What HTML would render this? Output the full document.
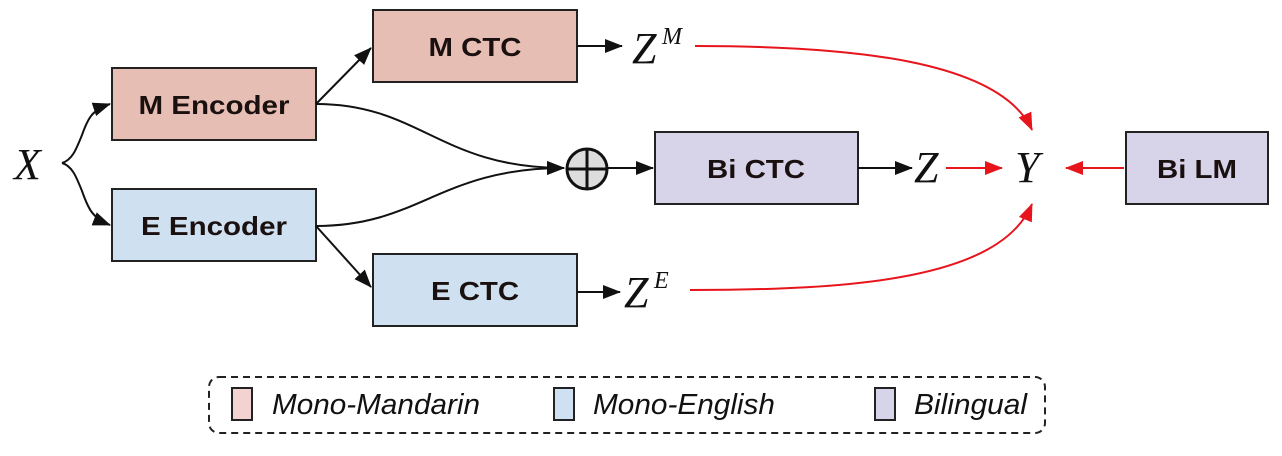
<!DOCTYPE html>
<html><head><style>
body{margin:0;background:#fff;width:1282px;height:451px;overflow:hidden}
</style></head><body>
<svg width="1282" height="451" xmlns="http://www.w3.org/2000/svg" font-family="Liberation Sans, sans-serif">
<defs>
<marker id="a" markerWidth="18" markerHeight="14" refX="17" refY="7" orient="auto" markerUnits="userSpaceOnUse" viewBox="0 0 18 14"><path d="M0,0 L18,7 L0,14z" fill="#111"/></marker>
<marker id="r" markerWidth="18" markerHeight="14" refX="17" refY="7" orient="auto" markerUnits="userSpaceOnUse" viewBox="0 0 18 14"><path d="M0,0 L18,7 L0,14z" fill="#e8141c"/></marker>
</defs>
<g stroke="#222" stroke-width="2">
<rect x="112" y="68" width="204" height="72" fill="#e6beb3"/>
<rect x="112" y="189" width="204" height="72" fill="#cfe1f0"/>
<rect x="373" y="10" width="204" height="72" fill="#e6beb3"/>
<rect x="373" y="254" width="204" height="72" fill="#cfe1f0"/>
<rect x="655" y="132" width="203" height="72" fill="#d7d3e8"/>
<rect x="1126" y="132" width="142" height="72" fill="#d7d3e8"/>
</g>
<g font-weight="bold" font-size="26" fill="#1a1010" text-anchor="middle">
<text x="214" y="114" textLength="151" lengthAdjust="spacingAndGlyphs">M Encoder</text>
<text x="214" y="235" textLength="146" lengthAdjust="spacingAndGlyphs">E Encoder</text>
<text x="475" y="56" textLength="93" lengthAdjust="spacingAndGlyphs">M CTC</text>
<text x="475" y="300" textLength="88" lengthAdjust="spacingAndGlyphs">E CTC</text>
<text x="756" y="178" textLength="98" lengthAdjust="spacingAndGlyphs">Bi CTC</text>
<text x="1197" y="178" textLength="80" lengthAdjust="spacingAndGlyphs">Bi LM</text>
</g>
<g font-family="Liberation Serif, serif" font-style="italic" font-size="44" fill="#111">
<text x="14" y="179">X</text>
<text x="632" y="63">Z</text><text x="662" y="44" font-size="24">M</text>
<text x="624" y="307">Z</text><text x="654" y="288" font-size="24">E</text>
<text x="914" y="182">Z</text>
<text x="1015" y="182">Y</text>
</g>
<g fill="none" stroke="#111" stroke-width="2">
<path d="M62,163 C72,160 76,150 82,135 C88,118 92,110 110,104" marker-end="url(#a)"/>
<path d="M62,163 C72,166 76,176 82,191 C88,208 92,218 110,225" marker-end="url(#a)"/>
<path d="M316,104 L371,48" marker-end="url(#a)"/>
<path d="M316,226 L371,287" marker-end="url(#a)"/>
<path d="M316,104 C420,104 440,168 564,168" marker-end="url(#a)"/>
<path d="M316,226 C420,226 440,168 564,168" marker-end="url(#a)"/>
<path d="M607,168 L653,168" marker-end="url(#a)"/>
<path d="M577,46 L622,46" marker-end="url(#a)"/>
<path d="M577,292 L620,292" marker-end="url(#a)"/>
<path d="M858,168 L912,168" marker-end="url(#a)"/>
<circle cx="587" cy="169" r="20" fill="#ddd" stroke-width="3"/>
<path d="M567,169 H607 M587,149 V189" stroke-width="3"/>
</g>
<g fill="none" stroke="#e8141c" stroke-width="2">
<path d="M695,46 C850,46 1000,60 1032,130" marker-end="url(#r)"/>
<path d="M690,290 C850,290 1000,280 1032,204" marker-end="url(#r)"/>
<path d="M946,168 L1002,168" marker-end="url(#r)"/>
<path d="M1124,168 L1066,168" marker-end="url(#r)"/>
</g>
<rect x="209" y="377" width="836" height="56" rx="10" fill="none" stroke="#222" stroke-width="2" stroke-dasharray="7,5"/>
<g stroke="#222" stroke-width="2">
<rect x="232" y="388" width="20" height="32" fill="#f2d3d1"/>
<rect x="554" y="388" width="20" height="32" fill="#cfe0f2"/>
<rect x="875" y="388" width="20" height="32" fill="#d6d4e8"/>
</g>
<g font-style="italic" font-size="29" fill="#111">
<text x="272" y="414" textLength="208" lengthAdjust="spacingAndGlyphs">Mono-Mandarin</text>
<text x="593" y="414" textLength="182" lengthAdjust="spacingAndGlyphs">Mono-English</text>
<text x="914" y="414" textLength="113" lengthAdjust="spacingAndGlyphs">Bilingual</text>
</g>
</svg>
</body></html>
